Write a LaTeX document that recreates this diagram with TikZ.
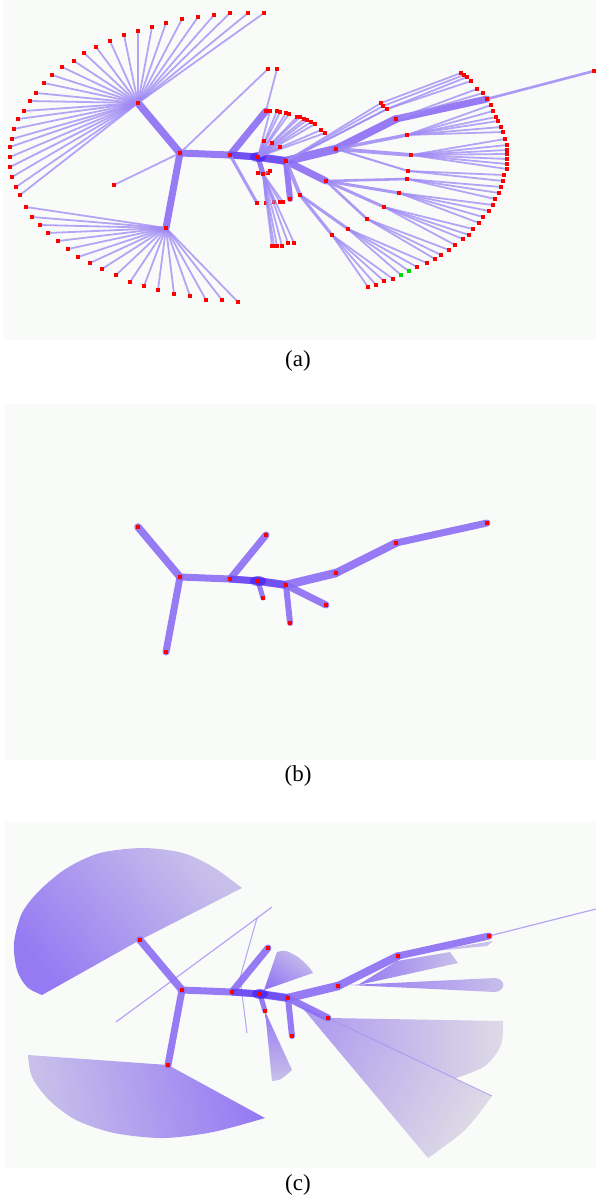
\documentclass[tikz,border=0pt]{standalone}
\usepackage{fontspec}
\setmainfont{Liberation Serif}

\definecolor{limbc}{RGB}{140,110,245}
\definecolor{deepc}{RGB}{60,20,240}
\definecolor{twigc}{RGB}{158,136,245}
\definecolor{panelc}{RGB}{249,251,249}
\definecolor{fanhi}{RGB}{150,122,243}
\definecolor{fanmid}{RGB}{178,160,238}
\definecolor{fanlo}{RGB}{200,192,234}
\definecolor{fangrey}{RGB}{222,218,230}

\begin{document}
\begin{tikzpicture}[
    x=1pt, y=-1pt,
    panel/.style={fill=panelc, draw=none},
    limb/.style={line width=7pt, color=limbc, opacity=0.9, line cap=round},
    twig/.style={line width=1.8pt, color=twigc, opacity=0.75},
    band/.style={color=twigc, opacity=0.85},
    leaf/.style={fill=red, opacity=1, minimum size=4.5pt, inner sep=0pt, outer sep=0pt},
    seed/.style={leaf, fill=green!85!black},
    wedge/.style={shading=axis},
    caption/.style={font=\fontsize{23}{26}\selectfont, inner sep=0pt}
]

\useasboundingbox (0,0) rectangle (596,1198);

% =========================================================
% PANEL BACKGROUNDS
% =========================================================
\fill[panel] (3,0) rectangle (596,340);
\fill[panel] (5,404) rectangle (596,760);
\fill[panel] (5,822) rectangle (596,1168);

% =========================================================
% SKELETON: same tree in every panel, shifted down
% =========================================================
\foreach \p/\dx/\dy in {a/0/0, b/0/424, c/2/837}{
  \begin{scope}[shift={(\dx,\dy)}]
    \coordinate (\p-R)   at (180,153);
    \coordinate (\p-b1)  at (138,103);
    \coordinate (\p-bh)  at (166,228);
    \coordinate (\p-C)   at (230,155);
    \coordinate (\p-Cu)  at (266,111);
    \coordinate (\p-D)   at (258,157);
    \coordinate (\p-Dd)  at (263,174);
    \coordinate (\p-E)   at (286,161);
    \coordinate (\p-Ed)  at (290,199);
    \coordinate (\p-Edr) at (326,181);
    \coordinate (\p-F)   at (336,149);
    \coordinate (\p-G)   at (396,119);
    \coordinate (\p-H)   at (487,99);
  \end{scope}
}

% sub-hubs of the right fan in (a)
\coordinate (a-h1) at (407,135);
\coordinate (a-h2) at (411,155);
\coordinate (a-h3) at (408,171);
\coordinate (a-h4) at (407,179);
\coordinate (a-h5) at (399,193);
\coordinate (a-h6) at (384,207);
\coordinate (a-h7) at (367,219);
\coordinate (a-h8) at (348,229);
\coordinate (a-h9) at (332,235);
\coordinate (a-p)  at (300,195);
\coordinate (a-tip) at (594,71);

% =========================================================
% (c): aggregated fans as wedges
% =========================================================
% upper-left half disc
\shade[wedge, top color=fanlo, bottom color=fanhi, shading angle=-50]
  (c-b1) -- (242,888) -- plot[smooth] coordinates {(242,888) (213,867) (183,853)
  (143,848) (100,853) (67,868) (40,890) (22,913) (14,943) (17,970) (27,987) (42,995)}
  -- cycle;
% lower-left wedge
\shade[wedge, top color=fanlo, bottom color=fanhi, shading angle=100]
  (c-bh) -- (28,1055) -- plot[smooth] coordinates {(28,1055) (32,1077) (49,1100)
  (76,1120) (114,1133) (163,1138) (213,1132) (265,1118)} -- cycle;
% lower-right pair
\shade[wedge, top color=fanmid, bottom color=fangrey, shading angle=60]
  (300,1005) -- (492,1096) -- plot[smooth] coordinates {(492,1096) (465,1130) (428,1158)}
  -- cycle;
\shade[wedge, top color=fangrey, bottom color=fanmid, shading angle=-90]
  (c-Edr) -- (503,1021) -- plot[smooth] coordinates {(503,1021) (501,1045) (485,1066)
  (455,1078.5)} -- cycle;
\draw[twig, line width=0.8pt] (c-Edr) -- (492,1096);
% small wedges round D
\shade[wedge, top color=fanlo, bottom color=fanhi, shading angle=-35]
  (264,990) -- (277,952) -- plot[smooth] coordinates {(277,952) (286,951) (298,957)
  (308,966) (313,973)} -- cycle;
\shade[wedge, top color=fanhi, bottom color=fanlo]
  (c-Dd) -- (272,1081) -- plot[smooth] coordinates {(272,1081) (281,1079) (292,1070)}
  -- cycle;
% narrow wedges off F and G
\shade[wedge, top color=fanlo, bottom color=fanhi, shading angle=-90]
  (350,985) -- (495,978) .. controls (506,979) and (506,991) .. (495,992) -- cycle;
\shade[wedge, top color=fanlo, bottom color=fanhi, shading angle=-90]
  (358,985) -- (397,961) -- (450,952) -- (458,963) -- cycle;
\fill[fanlo] (425,952) -- (493,941) -- (487,946) -- cycle;

% single leaves drawn as thin lines
\draw[twig, line width=1.2pt] (116,1022) -- (272,907);
\coordinate (c-v) at (257,918);
\draw[twig, line width=1pt] (c-v) -- (240,978) -- (247,1033);
\draw[twig, line width=1.2pt] (c-H) -- (596,909);

% =========================================================
% LIMBS (all panels)
% =========================================================
\foreach \u/\v/\w in {R/b1/7.5, R/bh/7, R/C/7, C/Cu/7, C/D/7, D/Dd/5, D/E/8,
                      E/Ed/6, E/Edr/7, E/F/8.5, F/G/8, G/H/7}{
  \foreach \p in {a,b,c}
    \draw[limb, line width=\w pt] (\p-\u) -- (\p-\v);
}
% dark knot round D
\foreach \p in {a,b,c}{
  \draw[deepc, opacity=0.4, line width=7pt] (\p-C) -- (\p-D) -- (\p-E);
  \fill[deepc, opacity=0.55] (\p-D) ellipse (8 and 5);
}

% =========================================================
% (a): leaf fans
% =========================================================
% upper-left fan
\foreach \q in {(264,13),(248,13),(230,13),(214,15),(198,17),(182,19),(166,23),
    (152,27),(138,31),(124,35),(110,41),(96,47),(84,53),(74,61),(62,67),(52,75),
    (44,83),(36,93),(30,101),(24,111),(18,119),(14,129),(12,139),(10,147),(10,157),
    (10,167),(12,177),(16,187),(20,195)}
  \draw[twig] (a-b1) -- \q node[leaf] {};

% lower-left fan
\foreach \q in {(26,207),(32,217),(40,225),(48,233),(58,241),(68,249),(78,257),
    (90,263),(102,269),(116,275),(130,282),(144,286),(158,290),(174,294),(190,296),
    (206,300),(222,300),(238,302)}
  \draw[twig] (a-bh) -- \q node[leaf] {};

% single leaves
\draw[twig] (a-R) -- (114,185) node[leaf] {};
\draw[twig] (a-R) -- (268,69) node[leaf] {};
\draw[twig] (a-Cu) -- (277,69) node[leaf] {};
\draw[band, line width=3pt] (a-C) -- (257,203) node[leaf] {};

% small fans round D
\foreach \q in {(270,111),(277,111),(280,112),(286,113),(289,114),(297,117),(300,117),
    (304,119),(307,120),(311,122),(315,124),(321,130),(325,133),(264,141),(272,143),
    (280,147)}
  \draw[twig] (a-D) -- \q node[leaf] {};
\foreach \q in {(258,173),(268,173),(270,171),(266,203),(274,202),(280,202),(283,202),
    (272,246),(274,246),(277,246),(282,246),(288,243),(294,243)}
  \draw[twig] (a-Dd) -- \q node[leaf] {};

% thin pairs up to the top of the right fan
\foreach \mx/\my/\tx/\ty in {381/103/461/73, 383/106/464/75, 387/109/467/77, 387/109/471/81}
  \draw[twig] (a-E) -- (\mx,\my) node[leaf] {} -- (\tx,\ty) node[leaf] {};

% bundles to the sub-hubs
\foreach \u/\v/\w in {a-F/a-h1/3.4, a-F/a-h2/3.8, a-F/a-h3/2, a-Edr/a-h4/2.6,
    a-Edr/a-h5/3, a-Edr/a-h6/3, a-Edr/a-h7/2.6, a-E/a-p/3.8, a-p/a-h8/3,
    a-p/a-h9/3, a-H/a-tip/2.6}
  \draw[band, line width=\w pt] (\u) -- (\v);
\node[leaf] (a-tip-dot) at (a-tip) {};

% right fan
\foreach \h/\tips in {
    a-G/{(477,89),(483,93)},
    a-h1/{(491,105),(493,111),(496,117),(498,121),(501,127),(503,132)},
    a-h2/{(505,139),(507,145),(507,150),(507,154),(507,159),(507,164),(507,169)},
    a-h3/{(504,175),(503,181)},
    a-h4/{(501,187),(499,193),(495,199)},
    a-h5/{(493,205),(489,211),(483,217),(479,223)},
    a-h6/{(473,229),(469,235),(463,239),(455,245)},
    a-h7/{(449,250),(441,255),(435,259)},
    a-h8/{(427,263),(417,267)},
    a-h9/{(393,279),(384,281),(376,285),(368,287)}}{
  \foreach \q in \tips
    \draw[twig] (\h) -- \q node[leaf] {};
}
\draw[twig] (a-h8) -- (409,271) node[seed] (s1) {};
\draw[twig] (a-h8) -- (401,275) node[seed] (s2) {};

% =========================================================
% HUB DOTS
% =========================================================
\foreach \p in {a,b,c}
  \foreach \n in {R,b1,bh,C,Cu,D,Dd,E,Ed,Edr,F,G,H}
    \node[leaf] (\p-\n-dot) at (\p-\n) {};
\foreach \n in {h1,h2,h3,h4,h5,h6,h7,h8,h9,p}
  \node[leaf] (a-\n-dot) at (a-\n) {};

% =========================================================
% CAPTIONS
% =========================================================
\node[caption] (capA) at (298,361) {(a)};
\node[caption] (capB) at (298,776) {(b)};
\node[caption] (capC) at (298,1185) {(c)};

\end{tikzpicture}
\end{document}
